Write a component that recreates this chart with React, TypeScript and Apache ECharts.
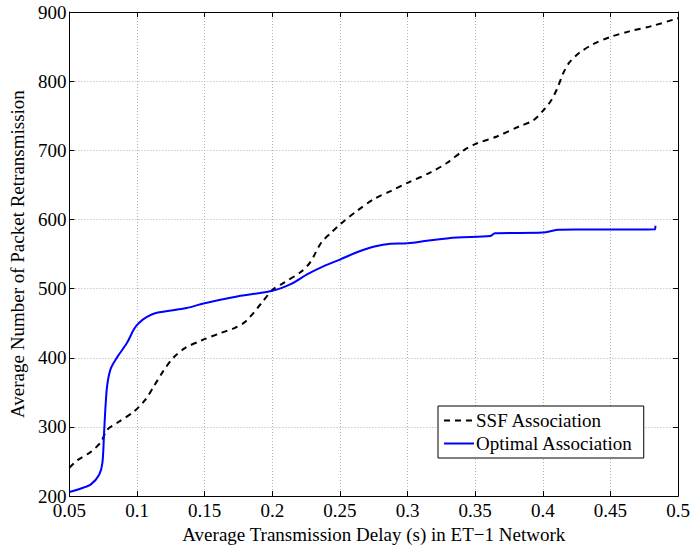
import React, { useEffect, useRef } from "react";
import * as echarts from "echarts";

const xTicks = [0.05, 0.1, 0.15, 0.2, 0.25, 0.3, 0.35, 0.4, 0.45, 0.5];
const yTicks = [200, 300, 400, 500, 600, 700, 800, 900];

const ssfX = [0.05, 0.056, 0.0659, 0.0732, 0.078, 0.0854, 0.0976, 0.106, 0.1122, 0.1195, 0.1268, 0.1354, 0.1476, 0.162, 0.172, 0.18, 0.192, 0.2, 0.209, 0.221, 0.228, 0.236, 0.243, 0.2507, 0.263, 0.2755, 0.2875, 0.3, 0.317, 0.3293, 0.3415, 0.35, 0.366, 0.383, 0.3927, 0.4, 0.4061, 0.411, 0.4147, 0.4196, 0.427, 0.4368, 0.45, 0.464, 0.4811, 0.4983, 0.5];
const ssfY = [241, 252, 264, 278, 296, 306, 322, 339, 358, 381, 400, 414, 425, 436, 443, 452, 479, 498, 509, 524, 538, 566, 580, 594, 613, 630, 641, 653, 668, 682, 700, 709, 720, 735, 743, 757, 772, 791, 810, 827, 841, 853, 864, 872, 880, 890, 891];

const optX = [0.05, 0.0585, 0.0659, 0.072, 0.0744, 0.0756, 0.0768, 0.078, 0.0805, 0.0854, 0.0927, 0.0976, 0.1012, 0.1073, 0.1146, 0.1366, 0.15, 0.172, 0.2, 0.214, 0.226, 0.2385, 0.25, 0.263, 0.2755, 0.2875, 0.3, 0.317, 0.3366, 0.361, 0.3646, 0.4, 0.411, 0.4268, 0.483, 0.4832];
const optY = [206, 211, 217, 231, 248, 290, 333, 361, 384, 401, 422, 441, 450, 459, 465, 472, 479, 488, 497, 507, 521, 533, 542, 553, 561, 565, 565.5, 570, 574, 576, 580, 581, 585, 585.5, 586, 591];

const seriesNames = ["SSF Association", "Optimal Association"];

const FONT = "Liberation Serif";

export default function App() {
  const ref = useRef<HTMLDivElement>(null);
  useEffect(() => {
    if (!ref.current) return;
    const chart = echarts.init(ref.current, undefined, { renderer: "svg" });
    const fmt = (v: number) => String(+v.toFixed(2));
    const axisCommon = {
      axisLine: { show: true, onZero: false, lineStyle: { color: "#000", width: 1 } },
      axisTick: { show: true, inside: true, length: 5, lineStyle: { color: "#000" } },
    };
    chart.setOption({
      animation: false,
      backgroundColor: "#fff",
      textStyle: { fontFamily: FONT, color: "#000" },
      grid: { left: 67, right: 14, top: 12, bottom: 46, show: false },
      legend: {
        left: 438,
        top: 406,
        orient: "vertical",
        data: seriesNames,
        backgroundColor: "#fff",
        borderColor: "#000",
        borderWidth: 1,
        borderRadius: 0,
        padding: [5, 11, 5, 5],
        itemGap: 4,
        itemWidth: 30,
        itemHeight: 19,
        itemStyle: { opacity: 0 },
        textStyle: { fontFamily: FONT, fontSize: 19, color: "#000", padding: [0, 0, 0, -3] },
      },
      xAxis: [
        {
          type: "value",
          min: 0.05,
          max: 0.5,
          interval: 0.05,
          position: "bottom",
          ...axisCommon,
          axisLabel: { formatter: fmt, fontFamily: FONT, fontSize: 19, color: "#000", margin: 5 },
          splitLine: { show: true, lineStyle: { type: [1, 2], color: "#b0b0b0", width: 1 } },
          name: "Average Transmission Delay (s) in ET\u22121 Network",
          nameLocation: "middle",
          nameGap: 24,
          nameTextStyle: { fontFamily: FONT, fontSize: 19, color: "#000" },
        },
        {
          type: "value",
          min: 0.05,
          max: 0.5,
          interval: 0.05,
          position: "top",
          ...axisCommon,
          axisLabel: { show: false },
          splitLine: { show: false },
        },
      ],
      yAxis: [
        {
          type: "value",
          min: 200,
          max: 900,
          interval: 100,
          position: "left",
          ...axisCommon,
          axisLabel: { fontFamily: FONT, fontSize: 19, color: "#000", margin: 3 },
          splitLine: { show: true, lineStyle: { type: [1, 2], color: "#b0b0b0", width: 1 } },
          name: "Average Number of Packet Retransmission",
          nameLocation: "middle",
          nameGap: 37,
          nameTextStyle: { fontFamily: FONT, fontSize: 19, color: "#000" },
        },
        {
          type: "value",
          min: 200,
          max: 900,
          interval: 100,
          position: "right",
          ...axisCommon,
          axisLabel: { show: false },
          splitLine: { show: false },
        },
      ],
      series: [
        {
          name: seriesNames[0],
          type: "line",
          data: ssfX.map((x, i) => [x, ssfY[i]]),
          symbol: "none",
          smooth: 0.3,
          lineStyle: { color: "#000", width: 2, type: [6, 5] },
          itemStyle: { color: "#000" },
        },
        {
          name: seriesNames[1],
          type: "line",
          data: optX.map((x, i) => [x, optY[i]]),
          symbol: "none",
          smooth: 0.3,
          lineStyle: { color: "#0000ff", width: 2, type: "solid" },
          itemStyle: { color: "#0000ff" },
        },
      ],
    });
    return () => chart.dispose();
  }, []);
  return <div ref={ref} style={{ width: 693, height: 549, position: "absolute", left: 0, top: 0 }} />;
}
